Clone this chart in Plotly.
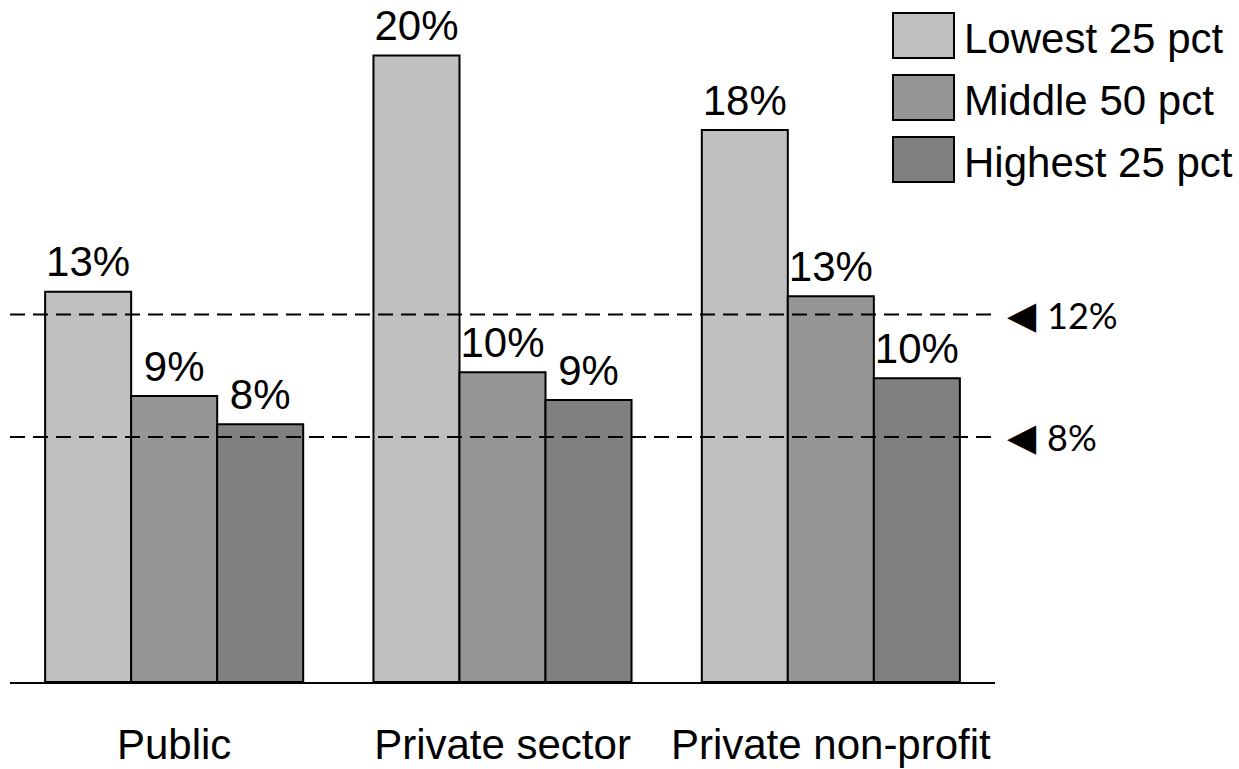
import plotly.graph_objects as go

categories = ["Public", "Private sector", "Private non-profit"]
series_names = ["Lowest 25 pct", "Middle 50 pct", "Highest 25 pct"]
lowest = [12.75, 20.46, 18.03]
middle = [9.34, 10.12, 12.6]
highest = [8.42, 9.21, 9.92]
lowest_labels = ["13%", "20%", "18%"]
middle_labels = ["9%", "10%", "13%"]
highest_labels = ["8%", "9%", "10%"]
ref_values = [12, 8]
ref_labels = ["12%", "8%"]

colors = ["#C0C0C0", "#969696", "#808080"]
W, H = 1239, 769
ML, MR, MT, MB = 10, 244, 10, 87
PW = W - ML - MR
PH = H - MT - MB

def px_x(p):
    return (p - ML) / PW

def px_y(p):
    return (H - MB - p) / PH

FONT = "Liberation Sans, Arial, sans-serif"
GAP = 0.214

fig = go.Figure()
for i, (name, vals, col) in enumerate(zip(series_names, [lowest, middle, highest], colors)):
    fig.add_trace(go.Bar(
        x=categories, y=vals, name=name, offsetgroup=str(i),
        marker=dict(color=col, line=dict(color="black", width=2)),
        showlegend=False, hoverinfo="skip",
    ))
for i, (vals, labs) in enumerate(zip([lowest, middle, highest],
                                     [lowest_labels, middle_labels, highest_labels])):
    fig.add_trace(go.Scatter(
        x=categories, y=vals, text=labs, offsetgroup=str(i),
        mode="markers+text", textposition="top center", cliponaxis=False,
        marker=dict(size=6, color="rgba(0,0,0,0)"),
        textfont=dict(size=42, color="black", family=FONT),
        showlegend=False, hoverinfo="skip",
    ))

shapes = []
annotations = []
for v, lab in zip(ref_values, ref_labels):
    shapes.append(dict(type="line", xref="paper", yref="y", x0=0, x1=1, y0=v, y1=v,
                       line=dict(color="black", width=2, dash="15px,8px"), layer="above"))
    annotations.append(dict(xref="paper", yref="y", x=px_x(1005), y=v, text="◀",
                            showarrow=False, xanchor="left", yanchor="middle",
                            font=dict(size=38, color="black", family="DejaVu Sans")))
    annotations.append(dict(xref="paper", yref="y", x=px_x(1045), y=v, text=lab,
                            showarrow=False, xanchor="left", yanchor="middle",
                            font=dict(size=36, color="black", family="Lato")))

# custom legend
rows = [(13, 58), (75, 120), (137, 182)]
for (top, bot), name, col in zip(rows, series_names, colors):
    shapes.append(dict(type="rect", xref="paper", yref="paper",
                       x0=px_x(893), x1=px_x(954), y0=px_y(bot), y1=px_y(top),
                       fillcolor=col, line=dict(color="black", width=2)))
    annotations.append(dict(xref="paper", yref="paper", x=px_x(962), y=px_y((top + bot) / 2 + 3),
                            text=name, showarrow=False, xanchor="left", yanchor="middle",
                            font=dict(size=42, color="black", family=FONT)))

fig.update_layout(
    width=W, height=H,
    margin=dict(l=ML, r=MR, t=MT, b=MB, pad=0),
    paper_bgcolor="white", plot_bgcolor="white",
    barmode="group", bargap=GAP, bargroupgap=0,
    scattermode="group", scattergap=GAP,
    shapes=shapes, annotations=annotations,
    font=dict(family=FONT, color="black"),
    xaxis=dict(showline=True, linecolor="black", linewidth=2, ticks="",
               tickfont=dict(size=42, family=FONT, color="black"),
               ticklabelstandoff=25, automargin=False,
               showgrid=False, zeroline=False),
    yaxis=dict(range=[0, 21.95], visible=False, showgrid=False, zeroline=False,
               automargin=False),
)

fig.write_html("out.html")
